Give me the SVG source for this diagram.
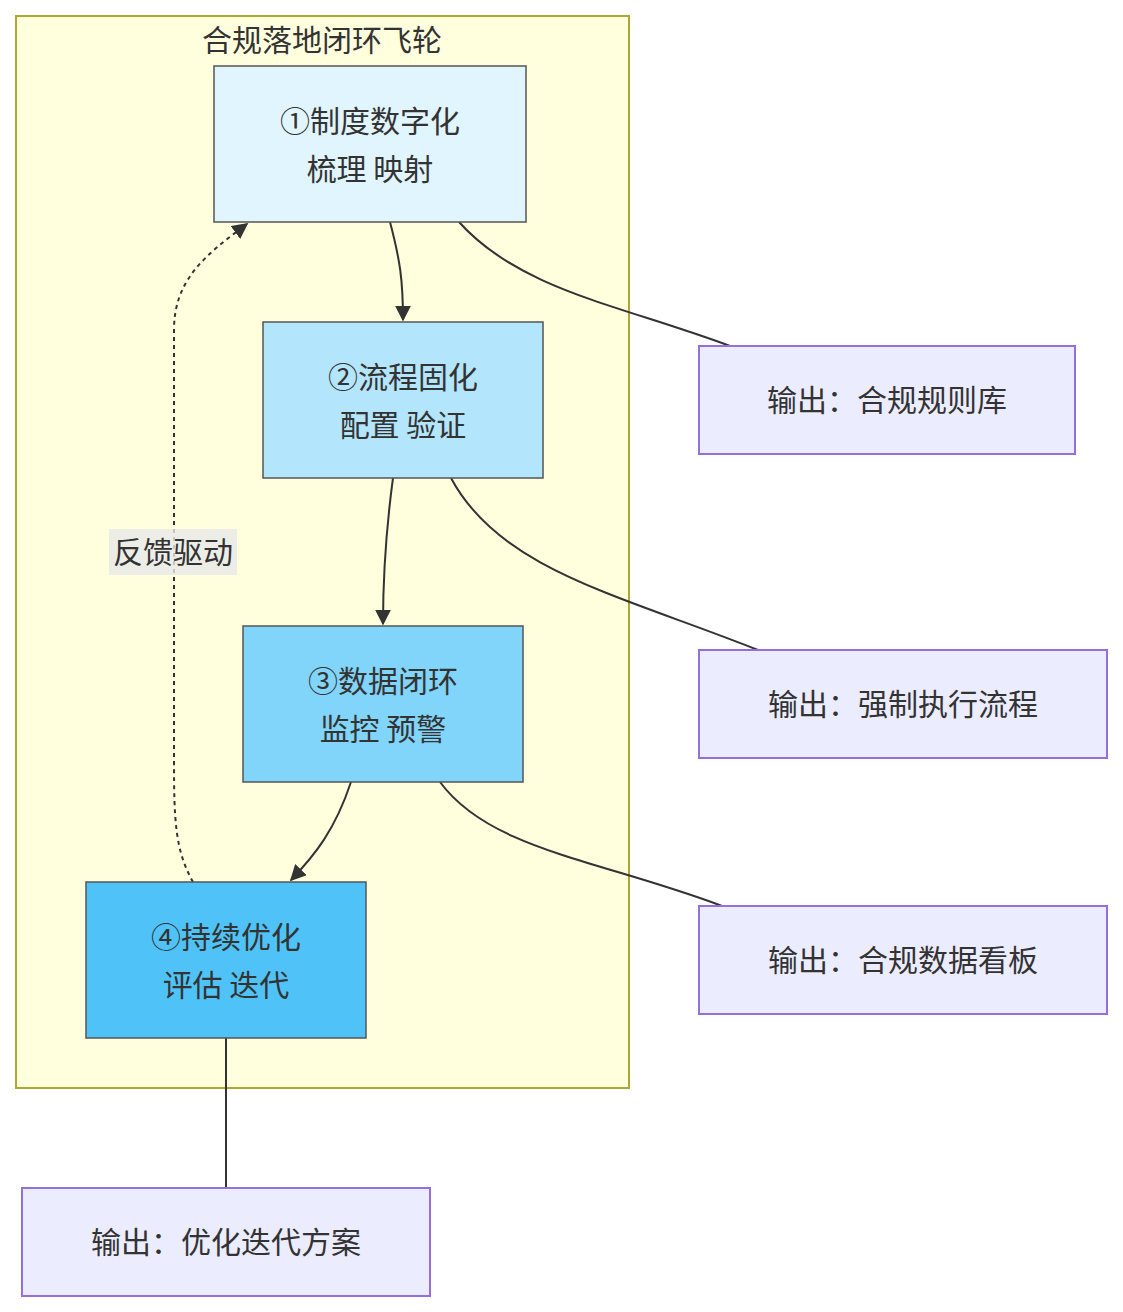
<svg xmlns="http://www.w3.org/2000/svg" width="1123" height="1312" viewBox="0 0 1123 1312">
<style>
text{font-family:"Noto Sans CJK SC","Liberation Sans",sans-serif;font-size:30px;fill:#333;text-anchor:middle}
.n{stroke:#555;stroke-width:1.5}
.o{fill:#ececff;stroke:#9370db;stroke-width:2}
.e{fill:none;stroke:#333;stroke-width:2}
</style>
<defs><marker id="a" viewBox="0 0 10 10" refX="9" refY="5" markerWidth="8" markerHeight="8" orient="auto"><path d="M0,0L10,5L0,10z" fill="#333"/></marker></defs>
<g id="cluster"><rect x="16" y="16" width="613" height="1072" fill="#ffffde" stroke="#aaaa33" stroke-width="2"/><text x="322" y="51">合规落地闭环飞轮</text></g>
<g id="edges">
<path class="e" d="M390,222 C400,260 403,280 403,320" marker-end="url(#a)"/>
<path class="e" d="M393,478 C386,530 383,570 383,624" marker-end="url(#a)"/>
<path class="e" d="M351,782 C335,830 315,855 291,880" marker-end="url(#a)"/>
<path class="e" d="M193,882 C175,850 174,820 174,760 L174,330 C174,280 205,255 247,224" stroke-dasharray="4,4" marker-end="url(#a)"/>
<path class="e" d="M459,222 C520,290 620,305 730,346"/>
<path class="e" d="M451,478 C500,570 620,595 758,650"/>
<path class="e" d="M440,782 C490,850 600,860 722,906"/>
<path class="e" d="M226,1038 L226,1188"/>
<rect x="109" y="529" width="128" height="46" fill="#e8e8e8" opacity="0.8"/><text x="173" y="563">反馈驱动</text>
</g>
<g id="n1"><rect class="n" x="214" y="66" width="312" height="156" fill="#e1f5fe"/><text x="370" y="132">①制度数字化</text><text x="370" y="180">梳理 映射</text></g>
<g id="n2"><rect class="n" x="263" y="322" width="280" height="156" fill="#b3e5fc"/><text x="403" y="388">②流程固化</text><text x="403" y="436">配置 验证</text></g>
<g id="n3"><rect class="n" x="243" y="626" width="280" height="156" fill="#81d4fa"/><text x="383" y="692">③数据闭环</text><text x="383" y="740">监控 预警</text></g>
<g id="n4"><rect class="n" x="86" y="882" width="280" height="156" fill="#4fc3f7"/><text x="226" y="948">④持续优化</text><text x="226" y="996">评估 迭代</text></g>
<g id="o1"><rect class="o" x="699" y="346" width="376" height="108"/><text x="887" y="411">输出：合规规则库</text></g>
<g id="o2"><rect class="o" x="699" y="650" width="408" height="108"/><text x="903" y="715">输出：强制执行流程</text></g>
<g id="o3"><rect class="o" x="699" y="906" width="408" height="108"/><text x="903" y="971">输出：合规数据看板</text></g>
<g id="o4"><rect class="o" x="22" y="1188" width="408" height="108"/><text x="226" y="1253">输出：优化迭代方案</text></g>
</svg>
